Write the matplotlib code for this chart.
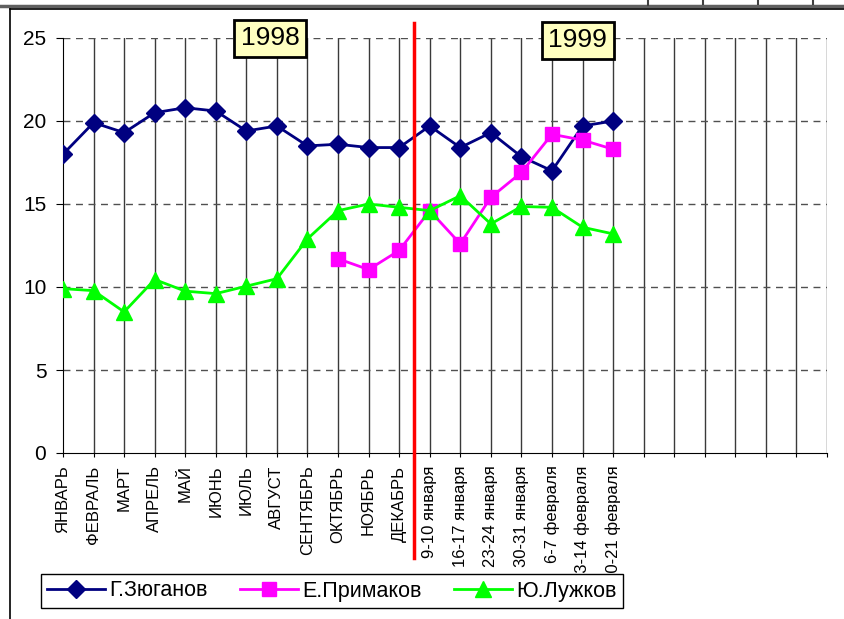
import numpy as np
import matplotlib
matplotlib.use("Agg")
import matplotlib.pyplot as plt
from matplotlib.lines import Line2D

plt.rcParams['font.family'] = ['Liberation Sans', 'DejaVu Sans']

labels = ['ЯНВАРЬ', 'ФЕВРАЛЬ', 'МАРТ', 'АПРЕЛЬ', 'МАЙ', 'ИЮНЬ', 'ИЮЛЬ',
          'АВГУСТ', 'СЕНТЯБРЬ', 'ОКТЯБРЬ', 'НОЯБРЬ', 'ДЕКАБРЬ',
          '9-10 января', '16-17 января', '23-24 января', '30-31 января',
          '6-7 февраля', '13-14 февраля', '20-21 февраля']
n_slots = 26  # axis has empty categories after the data

zyuganov = [18.0, 19.9, 19.3, 20.5, 20.8, 20.6, 19.4, 19.7, 18.5, 18.6, 18.4, 18.4,
            19.7, 18.4, 19.3, 17.85, 17.0, 19.7, 20.0]
primakov = [np.nan] * 9 + [11.7, 11.05, 12.2, 14.6, 12.6, 15.4, 16.9, 19.2, 18.85, 18.3]
luzhkov = [9.9, 9.78, 8.5, 10.45, 9.75, 9.6, 10.05, 10.5, 12.9, 14.6, 15.0, 14.8,
           14.6, 15.5, 13.8, 14.85, 14.8, 13.6, 13.2]

fig = plt.figure(figsize=(8.45, 6.19), dpi=100)
W, H = 845.0, 619.0
ax = fig.add_axes([63 / W, 1 - 453 / H, (827 - 63) / W, (453 - 38) / H])

x = np.arange(len(labels))
ax.set_xlim(0, n_slots - 1)
ax.set_ylim(0, 25)

# grid
for i in range(1, n_slots):
    ax.plot([i, i], [0, 25], color='#3a3a3a', lw=1.0, zorder=1)
for v in [5, 10, 15, 20, 25]:
    ax.plot([0, n_slots - 1], [v, v], color='#505050', lw=1.0,
            dashes=(5, 4), zorder=1)

ax.plot(x, zyuganov, color='#000080', lw=2, marker='D', ms=9.5,
        label='Г.Зюганов', zorder=3)
ax.plot(x, primakov, color='#FF00FF', lw=2, marker='s', ms=10.5,
        label='Е.Примаков', zorder=3)
ax.plot(x, luzhkov, color='#00FF00', lw=2, marker='^', ms=12,
        label='Ю.Лужков', zorder=4)

# red separator between 1998 and 1999
ax.plot([11.5, 11.5], [25.9, -6.3], color='#FF0000', lw=2.5,
        clip_on=False, zorder=5)

for s in ['top', 'right']:
    ax.spines[s].set_visible(False)
ax.spines['left'].set_color('black')
ax.spines['bottom'].set_color('black')

ax.set_xticks(range(n_slots))
ax.set_xticklabels(labels + [''] * (n_slots - len(labels)),
                   rotation=90, fontsize=12, va='top', ha='center')
ax.tick_params(axis='x', length=3, pad=6)
ax.set_yticks([0, 5, 10, 15, 20, 25])
ax.tick_params(axis='y', length=5, pad=7, labelsize=15)

box = dict(boxstyle='square,pad=0.25', facecolor='#FFFFC0',
           edgecolor='black', lw=2)
ax.text(6.77, 24.97, '1998', fontsize=19, ha='center', va='center',
        bbox=box, zorder=6)
ax.text(16.84, 24.85, '1999', fontsize=19, ha='center', va='center',
        bbox=box, zorder=6)

leg = fig.legend(loc='center', bbox_to_anchor=(332 / W, 1 - 591 / H), ncol=3,
                 fontsize=15.5, handlelength=2.7, frameon=True, fancybox=False,
                 edgecolor='black', framealpha=1, borderpad=0.3,
                 columnspacing=1.5, handletextpad=0.2)
leg.get_frame().set_linewidth(1)
leg.set_zorder(10)

# document frame around the chart
fig.add_artist(Line2D([0, 1], [1 - 5.5 / H, 1 - 5.5 / H], color='#606060', lw=2.5))
fig.add_artist(Line2D([10 / W, 1], [1 - 9 / H, 1 - 9 / H], color='black', lw=1.2))
fig.add_artist(Line2D([10 / W, 10 / W], [0, 1 - 9 / H], color='black', lw=1.2))
for px, st in [(648, '-'), (703, '--'), (758, '--'), (813, '--')]:
    fig.add_artist(Line2D([px / W, px / W], [1 - 5 / H, 1], color='#404040',
                          lw=1.5, ls=st))

fig.savefig('out.png', dpi=100)
